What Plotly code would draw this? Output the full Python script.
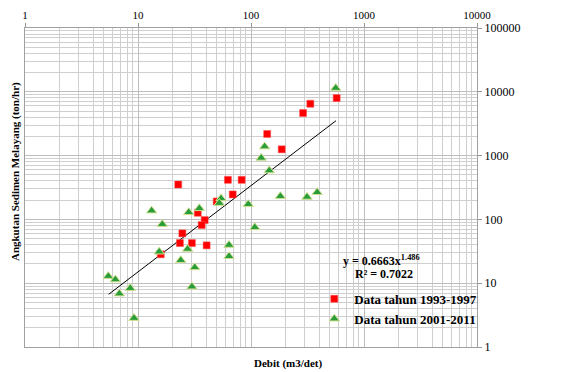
import plotly.graph_objects as go

# Data tahun 1993-1997 (red squares)
debit_1993 = [22.7, 62.5, 82.7, 68.9, 49.7, 33.8, 38.9, 36.6, 24.7, 23.5, 30.0, 40.5, 15.9,
              139, 187, 289, 335, 573]
sedimen_1993 = [352, 417, 417, 246, 191, 127, 97.7, 81.5, 60.4, 42.6, 42.6, 39.2, 28.4,
                2184, 1254, 4647, 6494, 7975]

# Data tahun 2001-2011 (green triangles)
debit_2001 = [562, 132, 123, 145, 54.3, 52.4, 94.6, 182, 313, 385, 13.2, 28.1, 34.9, 16.4,
              108, 63.9, 63.9, 15.4, 27.5, 23.9, 31.8, 5.46, 6.30, 6.84, 8.53, 9.22, 30.0]
sedimen_2001 = [11430, 1383, 920, 583, 213, 180, 173, 231, 225, 266, 137, 129, 149, 84.1,
                75, 39.7, 26.4, 31.1, 34.4, 22.9, 17.7, 12.9, 11.4, 6.86, 8.35, 2.84, 8.82]

# Trend line (power) as drawn
trend_x = [5.5, 565]
trend_y = [6.7, 3520]

x_ticks = [1, 10, 100, 1000, 10000]
y_ticks = [1, 10, 100, 1000, 10000, 100000]

FONT = "Liberation Serif"

fig = go.Figure()
fig.add_trace(go.Scatter(x=trend_x, y=trend_y, mode="lines",
                         line=dict(color="black", width=1), showlegend=False,
                         hoverinfo="skip"))
fig.add_trace(go.Scatter(x=debit_1993, y=sedimen_1993, mode="markers",
                         name="Data tahun 1993-1997",
                         marker=dict(symbol="square", size=7, color="#ff0000",
                                     line=dict(color="#ff5050", width=0.5))))
fig.add_trace(go.Scatter(x=debit_2001, y=sedimen_2001, mode="markers",
                         name="Data tahun 2001-2011",
                         marker=dict(symbol="triangle-up", size=9, color="#2a9d3a",
                                     line=dict(color="#cfe08f", width=1))))

grid_major = "#bdbdbd"
grid_minor = "#cfcfcf"

fig.update_xaxes(type="log", range=[0, 4], side="top", automargin=False,
                 tickvals=x_ticks, ticktext=[str(v) for v in x_ticks],
                 ticks="outside", ticklen=4, tickcolor="#999999",
                 showline=True, linecolor="#a0a0a0", mirror=True,
                 showgrid=True, gridcolor=grid_major, gridwidth=1,
                 minor=dict(dtick="D1", showgrid=True, gridcolor=grid_minor, ticks=""),
                 tickfont=dict(family=FONT, size=11, color="black"),
                 zeroline=False)
fig.update_yaxes(type="log", range=[0, 5], side="right", automargin=False,
                 tickvals=y_ticks, ticktext=[str(v) for v in y_ticks],
                 ticks="outside", ticklen=4, tickcolor="#999999",
                 showline=True, linecolor="#a0a0a0", mirror=True,
                 showgrid=True, gridcolor=grid_major, gridwidth=1,
                 minor=dict(dtick="D1", showgrid=True, gridcolor=grid_minor, ticks=""),
                 tickfont=dict(family=FONT, size=12, color="black"),
                 zeroline=False)

# the page adds an 8px body margin, so the figure is sized to fit inside it
fig.update_layout(
    width=561, height=364,
    margin=dict(l=17, r=92, t=20, b=25, autoexpand=False),
    paper_bgcolor="white", plot_bgcolor="white",
    font=dict(family=FONT, size=11, color="black"),
    legend=dict(x=0.64, y=0.198, xanchor="left", yanchor="top",
                bgcolor="rgba(0,0,0,0)", tracegroupgap=0,
                font=dict(family=FONT, size=13, color="black", weight="bold"),
                itemwidth=30),
    annotations=[
        dict(text="<b>Debit (m3/det)</b>", xref="paper", yref="paper",
             x=(288 - 25) / 452, y=-0.053, xanchor="center", yanchor="middle",
             showarrow=False, font=dict(family=FONT, size=11)),
        dict(text="<b>Angkutan Sedimen Melayang (ton/hr)</b>", xref="paper", yref="paper",
             x=-0.022, y=(347 - 172) / 319, xanchor="center", yanchor="middle",
             textangle=-90, showarrow=False, font=dict(family=FONT, size=11)),
        dict(text="<b>y = 0.6663x<sup>1.486</sup></b>", xref="paper", yref="paper",
             x=(341 - 25) / 452, y=(347 - 261) / 319, xanchor="left", yanchor="middle",
             showarrow=False, font=dict(family=FONT, size=12)),
        dict(text="<b>R² = 0.7022</b>", xref="paper", yref="paper",
             x=(353 - 25) / 452, y=(347 - 274) / 319, xanchor="left", yanchor="middle",
             showarrow=False, font=dict(family=FONT, size=12)),
    ],
)

fig.write_html("out.html")
